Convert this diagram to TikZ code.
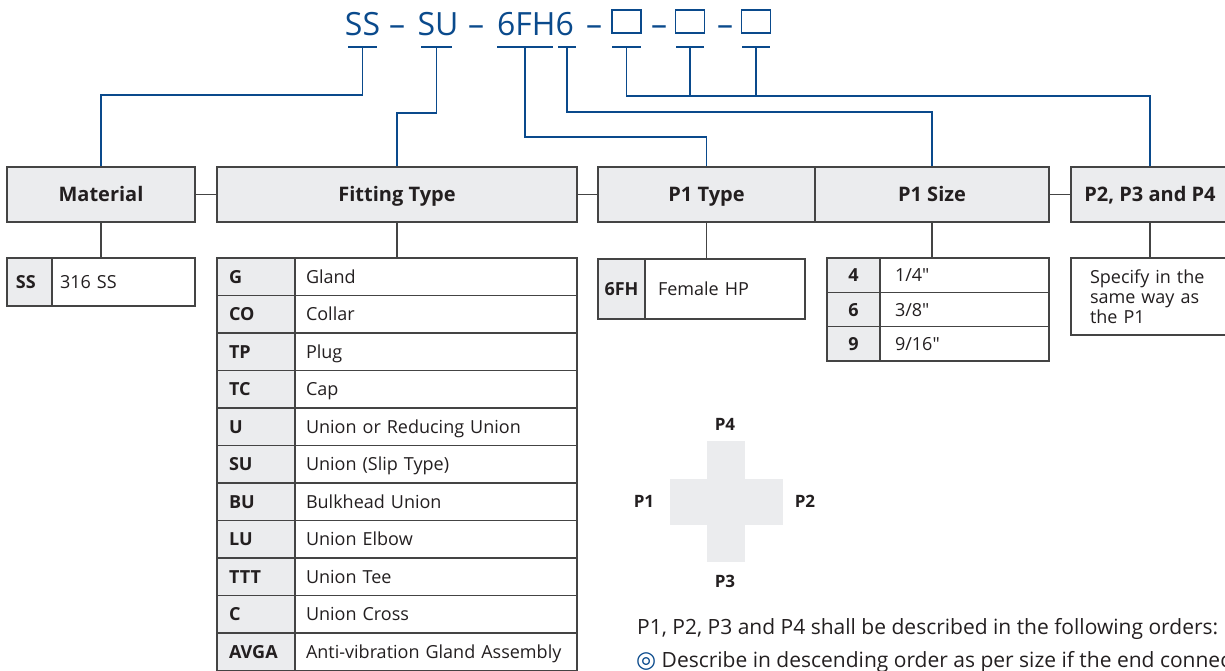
\documentclass[tikz,border=0pt]{standalone}
\usepackage{fontspec}
\setmainfont{Open Sans}[Ligatures=TeXOff]
\newfontfamily\symfont{DejaVu Sans}
\usetikzlibrary{positioning}
\definecolor{codeblue}{HTML}{0A4A8C}
\definecolor{cellgray}{HTML}{EBECEE}
\definecolor{rulegray}{HTML}{444444}
\definecolor{inkdark}{HTML}{231F20}

\begin{document}
\begin{tikzpicture}[x=1pt, y=-1pt,
  codepart/.style={anchor=base, inner sep=0pt, text=codeblue,
                   font=\fontsize{32}{36}\selectfont},
  codebox/.style={draw=codeblue, line width=1.3pt, minimum width=29pt,
                  minimum height=23pt, inner sep=0pt},
  codeline/.style={draw=codeblue, line width=1.7pt},
  head/.style={draw=rulegray, fill=cellgray, line width=1.4pt, minimum height=55pt,
               inner sep=0pt, text height=14.5pt, text depth=0pt, text=inkdark,
               font=\bfseries\fontsize{20}{24}\selectfont},
  keycell/.style={draw=rulegray, fill=cellgray, line width=1.3pt, inner ysep=0pt,
                  text height=13pt, text depth=0pt,
                  text=inkdark, font=\bfseries\fontsize{18}{22}\selectfont},
  valcell/.style={draw=rulegray, fill=white, line width=1.3pt, inner ysep=0pt,
                  text height=13pt, text depth=0pt,
                  text=inkdark, font=\fontsize{18}{22}\selectfont, align=left},
  link/.style={draw=rulegray, line width=1.2pt},
  portlbl/.style={text=inkdark, font=\bfseries\fontsize{17}{20}\selectfont},
  note/.style={anchor=base west, inner sep=0pt, text=inkdark,
               font=\fontsize{21}{24}\selectfont}
]
\useasboundingbox (0,0) rectangle (1225,671);
\clip (0,0) rectangle (1225,671);

% ordering code
\node[codepart] (c-ss) at (362.5,36) {SS};
\node[codepart] (d-1) at (397,36) {–};
\node[codepart] (c-su) at (438,36) {SU};
\node[codepart] (d-2) at (476,36) {–};
\node[codepart] (c-fh) at (535.5,36) {6FH6};
\node[codepart] (d-3) at (594,36) {–};
\node[codebox] (c-ba) at (626.5,21.5) {};
\node[codepart] (d-4) at (659,36) {–};
\node[codebox] (c-bb) at (690,21.5) {};
\node[codepart] (d-5) at (725,36) {–};
\node[codebox] (c-bc) at (756,21.5) {};

\foreach \nm/\cx/\w in {ss/362.5/29, su/436.5/31, fh/525/56, sz/567/18,
                        ba/626.5/29, bb/690/28, bc/756/28} {
  \coordinate (u-\nm) at (\cx,47);
  \draw[codeline] (\cx-\w/2,47) -- (\cx+\w/2,47);
}

% heading boxes
\node[head, minimum width=188pt] (mat) at (101,194.5) {Material};
\node[head, minimum width=360pt] (fit) at (397,194.5) {Fitting Type};
\node[head, minimum width=217pt] (ptype) at (706.5,194.5) {P1 Type};
\node[head, minimum width=234pt] (psize) at (932,194.5) {P1 Size};
\node[head, minimum width=158pt] (rest) at (1150,194.5) {P2, P3 and P4};

\draw[link] (mat.east) -- (fit.west);
\draw[link] (fit.east) -- (ptype.west);
\draw[link] (psize.east) -- (rest.west);

% code lines down to the headings
\draw[codeline] (u-ss) -- (u-ss |- 0,95) -| (mat.north);
\draw[codeline] (u-su) -- (u-su |- 0,113) -| (fit.north);
\draw[codeline] (u-fh) -- (u-fh |- 0,137) -| (ptype.north);
\draw[codeline] (u-sz) -- (u-sz |- 0,112) -| (psize.north);
\draw[codeline] (u-ba) -- (u-ba |- 0,96) -| (rest.north);
\draw[codeline] (u-bb) -- (u-bb |- 0,96);
\draw[codeline] (u-bc) -- (u-bc |- 0,96);

% material
\node[keycell, minimum height=48pt, inner xsep=9pt, text width=27pt, align=left] (mk) at (29.5,282) {SS};
\node[valcell, minimum height=48pt, inner xsep=8pt, text width=127pt] (mv) at (123.5,282) {316 SS};
\draw[link] (mat.south) -- (mat.south |- mv.north);

% fitting type
\foreach \code/\desc [count=\i] in {G/Gland, CO/Collar, TP/Plug, TC/Cap,
    U/Union or Reducing Union, SU/Union (Slip Type), BU/Bulkhead Union,
    LU/Union Elbow, TTT/Union Tee, C/Union Cross, AVGA/Anti-vibration Gland Assembly} {
  \node[keycell, minimum height=37.5pt, inner xsep=12pt, text width=54pt, align=left]
    (fk\i) at (256,239.25+37.5*\i) {\code};
  \node[valcell, minimum height=37.5pt, inner xsep=11pt, text width=260pt]
    (fv\i) at (436,239.25+37.5*\i) {\desc};
}
\draw[link] (fit.south) -- (fit.south |- fv1.north);

% p1 type
\node[keycell, minimum height=60pt, inner xsep=4pt, text width=39pt, align=center] (tk) at (621.5,289) {6FH};
\node[valcell, minimum height=60pt, inner xsep=13pt, text width=134pt] (tv) at (725,289) {Female HP};
\draw[link] (ptype.south) -- (ptype.south |- tv.north);

% p1 size
\node[keycell, minimum height=34.33pt, inner xsep=4pt, text width=45pt, align=center] (sk1) at (853.5,275.17) {4};
\node[valcell, minimum height=34.33pt, inner xsep=15pt, text width=139pt] (sv1) at (964.5,275.17) {1/4"};
\node[keycell, minimum height=34.33pt, inner xsep=4pt, text width=45pt, align=center] (sk2) at (853.5,309.5) {6};
\node[valcell, minimum height=34.33pt, inner xsep=15pt, text width=139pt] (sv2) at (964.5,309.5) {3/8"};
\node[keycell, minimum height=34.33pt, inner xsep=4pt, text width=45pt, align=center] (sk3) at (853.5,343.83) {9};
\node[valcell, minimum height=34.33pt, inner xsep=15pt, text width=139pt] (sv3) at (964.5,343.83) {9/16"};
\draw[link] (psize.south) -- (psize.south |- sv1.north);

% p2, p3, p4
\node[valcell, minimum height=77pt, inner xsep=19pt, text width=120pt,
      text height=, text depth=, font=\fontsize{18}{20}\selectfont] (rv) at (1150,296.5)
      {Specify in the\\same way as\\the P1};
\draw[link] (rest.south) -- (rest.south |- rv.north);

% cross sketch
\fill[cellgray] (707,441) rectangle (745,562);
\fill[cellgray] (670,479) rectangle (783,525);
\node[portlbl] (p4) at (725,424) {P4};
\node[portlbl] (p1) at (644,501) {P1};
\node[portlbl] (p2) at (805,501) {P2};
\node[portlbl] (p3) at (725,581) {P3};

% notes
\node[note] (note1) at (637,634) {P1, P2, P3 and P4 shall be described in the following orders:};
\node[note] (note2) at (636,667)
  {{\symfont\fontsize{23}{24}\selectfont\textcolor{codeblue}{◎}} Describe in descending order as per size if the end connections};
\end{tikzpicture}
\end{document}
